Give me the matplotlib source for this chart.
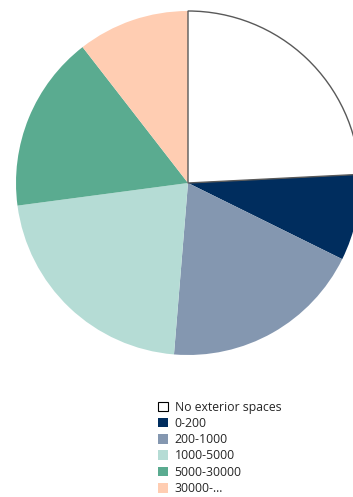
import matplotlib.pyplot as plt
from matplotlib.patches import Patch

plt.rcParams['font.family'] = ['Open Sans', 'DejaVu Sans']

categories = ["No exterior spaces", "0-200", "200-1000", "1000-5000",
              "5000-30000", "30000-..."]
shares = [24.2, 8.1, 19.0, 21.6, 16.6, 10.5]
colors = ["#ffffff", "#002d5e", "#8497b0", "#b5dcd5", "#5aab90", "#ffcdb2"]


def main():
    fig = plt.figure(figsize=(3.53, 4.97), dpi=100)
    ax = fig.add_axes([0, 0, 1, 1])

    wedges, _ = ax.pie(shares, colors=colors, startangle=90,
                       counterclock=False, center=(188, 314),
                       radius=172, frame=True,
                       wedgeprops=dict(linewidth=0))
    ax.set_xlim(0, 353)
    ax.set_ylim(0, 497)
    ax.axis("off")
    # only the white slice gets an outline
    wedges[0].set_edgecolor("#595959")
    wedges[0].set_linewidth(1.0)
    wedges[0].set_zorder(3)
    wedges[0].set_facecolor("none")

    handles = []
    for i, lab in enumerate(categories):
        if i == 0:
            handles.append(Patch(facecolor="white", edgecolor="black",
                                 linewidth=0.8, label=lab))
        else:
            handles.append(Patch(facecolor=colors[i], edgecolor="none",
                                 label=lab))
    fig.legend(handles=handles, loc="upper left",
               bbox_to_anchor=(158 / 353, 1 - 400.5 / 497),
               frameon=False, fontsize=8.8, borderpad=0, borderaxespad=0,
               handlelength=0.82, handleheight=0.82, handletextpad=0.55,
               labelspacing=0.27, labelcolor="#262626")

    fig.savefig("out.png", dpi=100)


if __name__ == "__main__":
    main()
